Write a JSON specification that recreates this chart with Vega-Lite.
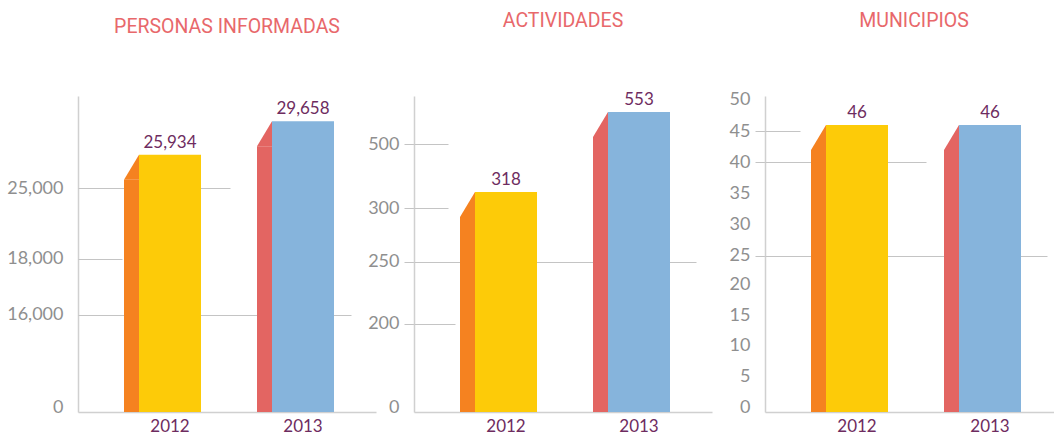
{
  "$schema": "https://vega.github.io/schema/vega-lite/v6.json",
  "background": "white",
  "padding": {"left": 6, "top": 11, "right": 0, "bottom": 0},
  "spacing": -9,
  "config": {
    "view": {"stroke": null},
    "font": "Lato",
    "axis": {"title": null, "labelOverlap": false},
    "title": {"font": "Roboto", "fontSize": 19.5, "fontWeight": "normal", "color": "#E8686B", "frame": "group", "offset": 59, "baseline": "alphabetic", "anchor": "middle"}
  },
  "hconcat": [
    {
      "width": 298, "height": 316,
      "title": {"text": "PERSONAS INFORMADAS"},
      "data": {"values": [{"year": "2012", "value": 25934}, {"year": "2013", "value": 29658}]},
      "resolve": {"axis": {"y": "independent"}},
      "layer": [
        {
          "mark": {"type": "bar", "width": 15, "xOffset": -38.5},
          "encoding": {
            "x": {"field": "year", "type": "nominal", "scale": {"paddingInner": 0, "paddingOuter": 0.1203, "align": 0.797},
                  "axis": {"labelAngle": 0, "ticks": false, "domainColor": "#d0d0d0", "domainWidth": 1.5, "labelPadding": 6, "labelColor": "#6E2C60", "labelFont": "Lato", "labelFontSize": 17}},
            "y": {"field": "value", "type": "quantitative", "scale": {"domain": [0, 35268], "nice": false},
                  "axis": {"orient": "left", "values": [0, 10826, 17076, 25000], "labelExpr": "datum.value == 25000 ? '25,000' : datum.value > 17000 ? '18,000' : datum.value > 10000 ? '16,000' : '0'", "ticks": false, "grid": false, "domainColor": "#d0d0d0", "domainWidth": 1.5, "labelPadding": 15, "labelFont": "Lato", "labelFontSize": 18, "labelColor": "#8f8f8f", "labelOffset": {"condition": {"test": "datum.value == 0", "value": -5}, "value": 0}}},
            "color": {"condition": {"test": "datum.year == '2012'", "value": "#F58220"}, "value": "#E36562"}
          }
        },
        {
          "mark": {"type": "point", "shape": "M -0.6 1 L 0.6 -1 L 0.6 1 Z", "size": 625, "filled": true, "opacity": 1, "strokeWidth": 0, "xOffset": -38.5, "yOffset": -12.5},
          "encoding": {
            "x": {"field": "year", "type": "nominal"},
            "y": {"field": "value", "type": "quantitative", "axis": null},
            "color": {"condition": {"test": "datum.year == '2012'", "value": "#F58220"}, "value": "#E36562"}
          }
        },
        {
          "mark": {"type": "bar", "width": 62, "yOffset": -25},
          "encoding": {
            "x": {"field": "year", "type": "nominal"},
            "y": {"field": "value", "type": "quantitative",
                  "axis": {"orient": "left", "values": [10826, 17076, 25000], "labels": false, "domain": false, "grid": false, "tickColor": "#c4c4c4", "tickWidth": 1,
                           "tickSize": {"condition": [{"test": "datum.value == 25000", "value": -152}, {"test": "datum.value > 17000", "value": -44}], "value": -273}}},
            "y2": {"datum": 0},
            "color": {"condition": {"test": "datum.year == '2012'", "value": "#FDCB08"}, "value": "#86B4DC"}
          }
        },
        {
          "mark": {"type": "text", "yOffset": -32, "baseline": "alphabetic", "font": "Lato", "fontSize": 17, "color": "#6E2C60"},
          "encoding": {
            "x": {"field": "year", "type": "nominal"},
            "y": {"field": "value", "type": "quantitative", "axis": null},
            "text": {"field": "value", "type": "quantitative", "format": ","}
          }
        }
      ]
    },
    {
      "width": 298, "height": 316,
      "title": {"text": "ACTIVIDADES"},
      "data": {"values": [{"year": "2012", "value": 318}, {"year": "2013", "value": 553}]},
      "resolve": {"axis": {"y": "independent"}},
      "layer": [
        {
          "mark": {"type": "bar", "width": 15, "xOffset": -38.5},
          "encoding": {
            "x": {"field": "year", "type": "nominal", "scale": {"paddingInner": 0, "paddingOuter": 0.1203, "align": 0.797},
                  "axis": {"labelAngle": 0, "ticks": false, "domainColor": "#d0d0d0", "domainWidth": 1.5, "labelPadding": 6, "labelColor": "#6E2C60", "labelFont": "Lato", "labelFontSize": 17}},
            "y": {"field": "value", "type": "quantitative", "scale": {"type": "pow", "exponent": 0.6213, "domain": [0, 691.6], "nice": false},
                  "axis": {"orient": "left", "values": [0, 88.4, 208.5, 341.9, 530.5], "labelExpr": "datum.value > 500 ? '500' : datum.value > 300 ? '300' : datum.value > 200 ? '250' : datum.value > 50 ? '200' : '0'", "ticks": true, "tickSize": 10, "tickColor": "#c4c4c4", "tickOpacity": {"condition": {"test": "datum.value == 0", "value": 0}, "value": 1}, "grid": false, "domainColor": "#d0d0d0", "domainWidth": 1.5, "labelPadding": 5, "labelFont": "Lato", "labelFontSize": 18, "labelColor": "#8f8f8f", "labelOffset": {"condition": {"test": "datum.value == 0", "value": -5}, "value": 0}}},
            "color": {"condition": {"test": "datum.year == '2012'", "value": "#F58220"}, "value": "#E36562"}
          }
        },
        {
          "mark": {"type": "point", "shape": "M -0.6 1 L 0.6 -1 L 0.6 1 Z", "size": 625, "filled": true, "opacity": 1, "strokeWidth": 0, "xOffset": -38.5, "yOffset": -12.5},
          "encoding": {
            "x": {"field": "year", "type": "nominal"},
            "y": {"field": "value", "type": "quantitative", "axis": null},
            "color": {"condition": {"test": "datum.year == '2012'", "value": "#F58220"}, "value": "#E36562"}
          }
        },
        {
          "mark": {"type": "bar", "width": 62, "yOffset": -25},
          "encoding": {
            "x": {"field": "year", "type": "nominal"},
            "y": {"field": "value", "type": "quantitative",
                  "axis": {"orient": "left", "values": [88.4, 208.5, 341.9, 530.5], "labels": false, "domain": false, "grid": false, "tickColor": "#c4c4c4", "tickWidth": 1,
                           "tickSize": {"condition": [{"test": "datum.value > 300", "value": -34}, {"test": "datum.value > 200", "value": -282}], "value": -41}}},
            "y2": {"datum": 0},
            "color": {"condition": {"test": "datum.year == '2012'", "value": "#FDCB08"}, "value": "#86B4DC"}
          }
        },
        {
          "mark": {"type": "text", "yOffset": -32, "baseline": "alphabetic", "font": "Lato", "fontSize": 17, "color": "#6E2C60"},
          "encoding": {
            "x": {"field": "year", "type": "nominal"},
            "y": {"field": "value", "type": "quantitative", "axis": null},
            "text": {"field": "value", "type": "quantitative", "format": ","}
          }
        }
      ]
    },
    {
      "width": 298, "height": 316,
      "title": {"text": "MUNICIPIOS"},
      "data": {"values": [{"year": "2012", "value": 46}, {"year": "2013", "value": 46}]},
      "resolve": {"axis": {"y": "independent"}},
      "layer": [
        {
          "mark": {"type": "bar", "width": 15, "xOffset": -38.5, "yOffset": 25},
          "encoding": {
            "x": {"field": "year", "type": "nominal", "scale": {"paddingInner": 0, "paddingOuter": 0.1203, "align": 0.797},
                  "axis": {"labelAngle": 0, "ticks": false, "domainColor": "#d0d0d0", "domainWidth": 1.5, "labelPadding": 6, "labelColor": "#6E2C60", "labelFont": "Lato", "labelFontSize": 17}},
            "y": {"field": "value", "type": "quantitative", "scale": {"domain": [0, 50.64], "nice": false},
                  "axis": {"orient": "left", "values": [0, 5, 10, 15, 20, 25, 30, 35, 40, 45, 50], "minExtent": 62, "ticks": true, "tickSize": 10, "tickColor": "#c4c4c4", "tickOpacity": {"condition": {"test": "datum.value == 25 || datum.value == 40 || datum.value == 45", "value": 1}, "value": 0}, "grid": false, "domainColor": "#d0d0d0", "domainWidth": 1.5, "labelPadding": 5, "labelFont": "Lato", "labelFontSize": 18, "labelColor": "#8f8f8f",
                           "labelOffset": {"condition": [{"test": "datum.value == 0", "value": -5}, {"test": "datum.value <= 10", "value": -4}, {"test": "datum.value <= 20", "value": -3}], "value": 0}}},
            "y2": {"datum": 0},
            "color": {"condition": {"test": "datum.year == '2012'", "value": "#F58220"}, "value": "#E36562"}
          }
        },
        {
          "mark": {"type": "point", "shape": "M -0.6 1 L 0.6 -1 L 0.6 1 Z", "size": 625, "filled": true, "opacity": 1, "strokeWidth": 0, "xOffset": -38.5, "yOffset": 12.5},
          "encoding": {
            "x": {"field": "year", "type": "nominal"},
            "y": {"field": "value", "type": "quantitative", "axis": null},
            "color": {"condition": {"test": "datum.year == '2012'", "value": "#F58220"}, "value": "#E36562"}
          }
        },
        {
          "mark": {"type": "bar", "width": 62},
          "encoding": {
            "x": {"field": "year", "type": "nominal"},
            "y": {"field": "value", "type": "quantitative",
                  "axis": {"orient": "left", "values": [25, 40, 45], "labels": false, "domain": false, "grid": false, "tickColor": "#c4c4c4", "tickWidth": 1,
                           "tickSize": {"condition": [{"test": "datum.value == 45", "value": -35}, {"test": "datum.value == 40", "value": -161}], "value": -282}}},
            "color": {"condition": {"test": "datum.year == '2012'", "value": "#FDCB08"}, "value": "#86B4DC"}
          }
        },
        {
          "mark": {"type": "text", "yOffset": -7, "baseline": "alphabetic", "font": "Lato", "fontSize": 17, "color": "#6E2C60"},
          "encoding": {
            "x": {"field": "year", "type": "nominal"},
            "y": {"field": "value", "type": "quantitative", "axis": null},
            "text": {"field": "value", "type": "quantitative", "format": ","}
          }
        }
      ]
    }
  ]
}
